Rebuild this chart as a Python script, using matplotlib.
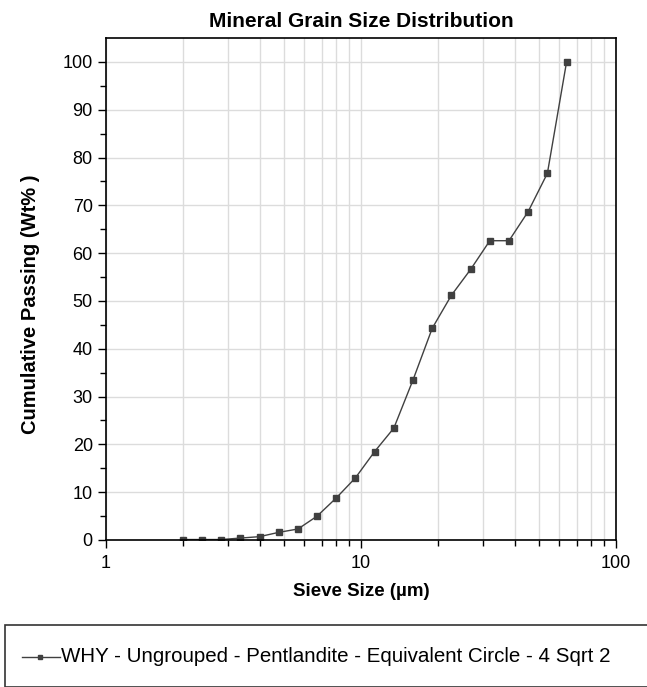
import matplotlib
matplotlib.use("Agg")
import matplotlib.pyplot as plt
from matplotlib.patches import Rectangle
from matplotlib.ticker import LogLocator, FixedLocator, NullFormatter

# sieve sizes (um) and cumulative passing (wt%)
sieve_size = [2.0, 2.38, 2.83, 3.36, 4.0, 4.76, 5.66, 6.73, 8.0, 9.51, 11.31,
              13.45, 16.0, 19.03, 22.63, 26.91, 32.0, 38.05, 45.25, 53.82, 64.0]
passing = [0.1, 0.1, 0.1, 0.4, 0.7, 1.6, 2.3, 5.0, 8.8, 13.0, 18.5,
           23.4, 33.5, 44.3, 51.2, 56.6, 62.6, 62.6, 68.7, 76.7, 100.0]
series_name = "WHY - Ungrouped - Pentlandite - Equivalent Circle - 4 Sqrt 2"
y_ticks = [0, 10, 20, 30, 40, 50, 60, 70, 80, 90, 100]

plt.rcParams['font.family'] = ['Liberation Sans', 'DejaVu Sans']

W, H = 647, 687
fig = plt.figure(figsize=(W / 100, H / 100), dpi=100)
ax = fig.add_axes([106 / W, 1 - 540 / H, 510 / W, 502 / H])

ax.plot(sieve_size, passing, color='#404040', lw=1, marker='s', ms=4,
        markerfacecolor='#404040', markeredgecolor='#404040')

ax.set_xscale('log')
ax.set_xlim(1, 100)
ax.set_ylim(0, 105)

ax.xaxis.set_major_locator(FixedLocator([1, 10, 100]))
ax.set_xticklabels(['1', '10', '100'])
ax.xaxis.set_minor_locator(LogLocator(base=10, subs=range(2, 10)))
ax.xaxis.set_minor_formatter(NullFormatter())
ax.set_yticks(y_ticks)
ax.set_yticks(range(5, 105, 10), minor=True)

ax.grid(True, which='major', color='#dcdcdc', lw=1)
ax.grid(True, which='minor', axis='x', color='#dcdcdc', lw=1)
ax.set_axisbelow(True)

ax.tick_params(axis='both', which='major', direction='out', length=6, width=1,
               labelsize=13, colors='black')
ax.tick_params(axis='both', which='minor', direction='out', length=4, width=1)
ax.tick_params(axis='x', which='major', pad=5)
for side in ax.spines:
    ax.spines[side].set_linewidth(1.2)

ax.set_title('Mineral Grain Size Distribution', fontsize=15, fontweight='bold', pad=8)
ax.set_xlabel('Sieve Size (µm)', fontsize=13.5, fontweight='bold', labelpad=8)
ax.set_ylabel('Cumulative Passing (Wt% )', fontsize=14.5, fontweight='bold')
ax.yaxis.set_label_coords(-0.13, 0.47)

# legend box at the bottom
fig.patches.append(Rectangle((5 / W, 0), 660 / W, 62 / H, transform=fig.transFigure,
                             facecolor='white', edgecolor='#333333', lw=1.2, clip_on=False))
leg_y = 1 - 657 / H
fig.add_artist(plt.Line2D([22 / W, 60 / W], [leg_y, leg_y], transform=fig.transFigure,
                          color='#404040', lw=1))
fig.add_artist(plt.Line2D([40 / W], [leg_y], transform=fig.transFigure,
                          color='#404040', marker='s', ms=3.5, lw=0))
fig.text(61 / W, leg_y, series_name, fontsize=14.8, va='center', ha='left')

fig.savefig('out.png', dpi=100)
